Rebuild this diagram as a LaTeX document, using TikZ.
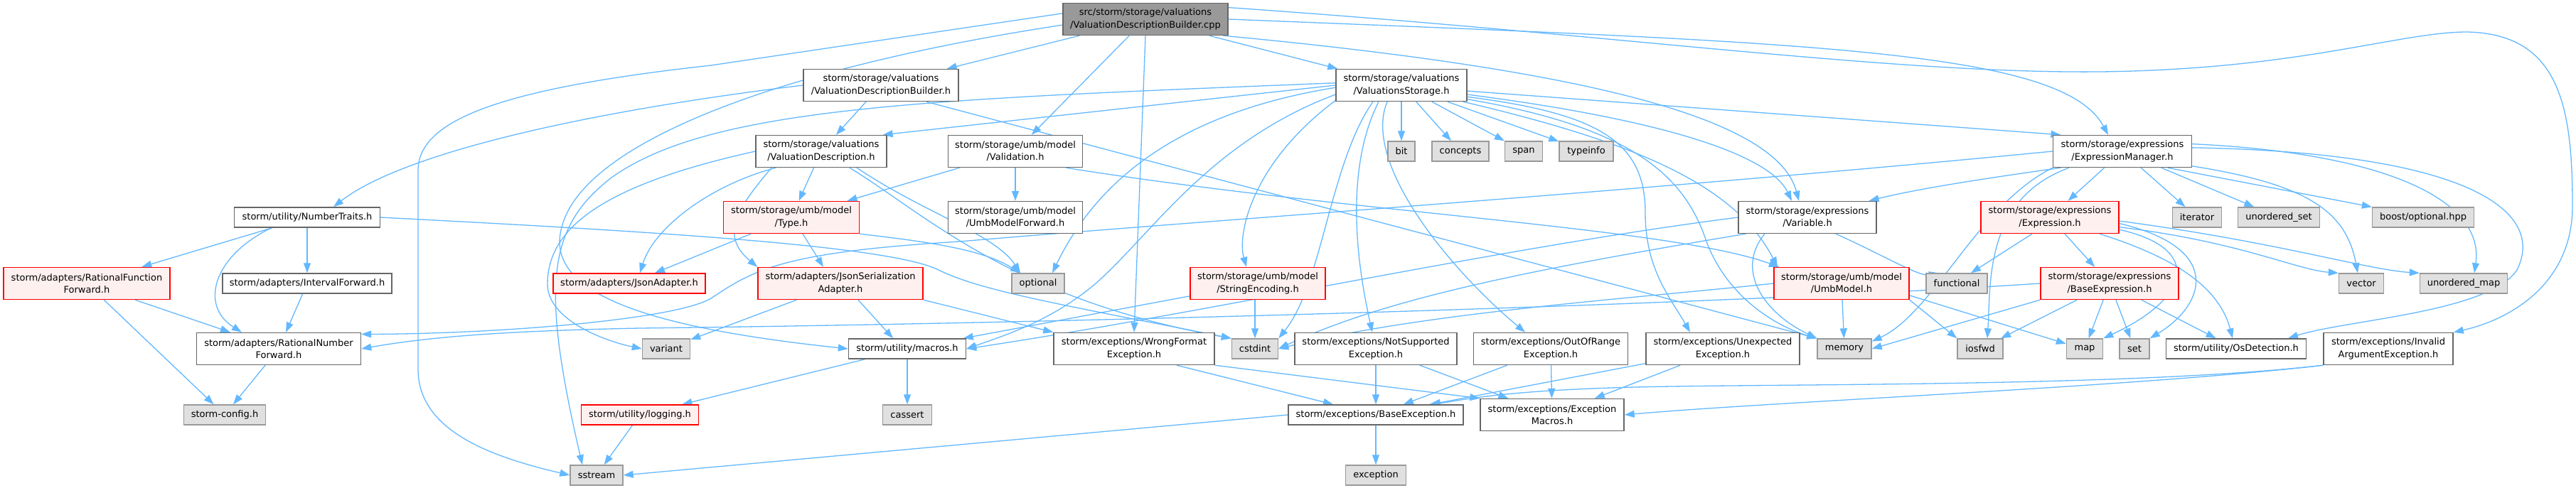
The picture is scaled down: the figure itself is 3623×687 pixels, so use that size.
\documentclass[tikz,border=0pt]{standalone}
\usepackage{fontspec}
\setmainfont{DejaVu Sans}
\usetikzlibrary{arrows.meta,backgrounds}
\definecolor{edgec}{HTML}{63B8FF}
\definecolor{nbord}{HTML}{666666}
\definecolor{gbord}{HTML}{999999}
\definecolor{gfill}{HTML}{E0E0E0}
\definecolor{rfill}{HTML}{FFF0F0}
\definecolor{rootfill}{HTML}{999999}
\definecolor{rbord}{HTML}{FF0000}
\begin{document}
\begin{tikzpicture}[x=1pt,y=-1pt,
  base/.style={draw, line width=1.4pt, inner sep=0pt, align=center,
    font=\fontsize{13}{17.3}\selectfont, minimum height=45pt},
  wbox/.style={base, draw=nbord, fill=white},
  wone/.style={wbox, minimum height=28pt},
  rbox/.style={base, draw=rbord, fill=rfill},
  rone/.style={rbox, minimum height=28pt},
  gone/.style={base, draw=gbord, fill=gfill, minimum height=28pt},
  rootbox/.style={base, draw=nbord, fill=rootfill},
  e/.style={draw=edgec, line width=1.3pt, -{Triangle[length=14pt,width=10pt]}}]
\useasboundingbox (0,0) rectangle (3623,687);
% row 0
\node[rootbox, minimum width=232] (root) at (1611,27) {src/storm/storage/valuations\\/ValuationDescriptionBuilder.cpp};
% row 1
\node[wbox, minimum width=218] (vdbh) at (1239,120) {storm/storage/valuations\\/ValuationDescriptionBuilder.h};
\node[wbox, minimum width=184] (vsh) at (1971,120) {storm/storage/valuations\\/ValuationsStorage.h};
% row 2
\node[wbox, minimum width=184] (vdh) at (1155,213) {storm/storage/valuations\\/ValuationDescription.h};
\node[wbox, minimum width=189] (valid) at (1428,213) {storm/storage/umb/model\\/Validation.h};
\node[gone, minimum width=38] (bit) at (1971,213) {bit};
\node[gone, minimum width=80] (concepts) at (2054,213) {concepts};
\node[gone, minimum width=53] (span) at (2143,213) {span};
\node[gone, minimum width=76] (typeinfo) at (2231,213) {typeinfo};
\node[wbox, minimum width=195] (em) at (2985,213) {storm/storage/expressions\\/ExpressionManager.h};
% row 3
\node[wone, minimum width=205] (nt) at (432,306) {storm/utility/NumberTraits.h};
\node[rbox, minimum width=191] (type) at (1113,306) {storm/storage/umb/model\\/Type.h};
\node[wbox, minimum width=189] (umbfwd) at (1428,306) {storm/storage/umb/model\\/UmbModelForward.h};
\node[wbox, minimum width=194] (var) at (2542,306) {storm/storage/expressions\\/Variable.h};
\node[rbox, minimum width=194] (expr) at (2883,306) {storm/storage/expressions\\/Expression.h};
\node[gone, minimum width=69] (iterator) at (3090,306) {iterator};
\node[gone, minimum width=115] (uset) at (3205,306) {unordered\_set};
\node[gone, minimum width=143] (boostopt) at (3408,306) {boost/optional.hpp};
% row 4
\node[rbox, minimum width=234] (rff) at (122,399) {storm/adapters/RationalFunction\\Forward.h};
\node[wone, minimum width=238] (ifwd) at (432,399) {storm/adapters/IntervalForward.h};
\node[rone, minimum width=214] (jsonad) at (885,399) {storm/adapters/JsonAdapter.h};
\node[rbox, minimum width=232] (jsonser) at (1182,399) {storm/adapters/JsonSerialization\\Adapter.h};
\node[gone, minimum width=74] (optional) at (1460,399) {optional};
\node[rbox, minimum width=190] (strenc) at (1769,399) {storm/storage/umb/model\\/StringEncoding.h};
\node[rbox, minimum width=190] (umbmodel) at (2590,399) {storm/storage/umb/model\\/UmbModel.h};
\node[gone, minimum width=86] (functional) at (2752,399) {functional};
\node[rbox, minimum width=194] (baseexpr) at (2967,399) {storm/storage/expressions\\/BaseExpression.h};
\node[gone, minimum width=63] (vector) at (3321,399) {vector};
\node[gone, minimum width=123] (umap) at (3465,399) {unordered\_map};
% row 5
\node[wbox, minimum width=231] (rnf) at (392,491) {storm/adapters/RationalNumber\\Forward.h};
\node[gone, minimum width=67] (variant) at (937,491) {variant};
\node[wone, minimum width=165] (macros) at (1276,491) {storm/utility/macros.h};
\node[wbox, minimum width=226] (wrongfmt) at (1595,491) {storm/exceptions/WrongFormat\\Exception.h};
\node[gone, minimum width=65] (cstdint) at (1765,491) {cstdint};
\node[wbox, minimum width=228] (notsup) at (1935,491) {storm/exceptions/NotSupported\\Exception.h};
\node[wbox, minimum width=217] (oor) at (2181,491) {storm/exceptions/OutOfRange\\Exception.h};
\node[wbox, minimum width=216] (unexp) at (2423,491) {storm/exceptions/Unexpected\\Exception.h};
\node[gone, minimum width=76] (memory) at (2594,491) {memory};
\node[gone, minimum width=64] (iosfwd) at (2785,491) {iosfwd};
\node[gone, minimum width=51] (map) at (2932,491) {map};
\node[gone, minimum width=42] (set) at (3002,491) {set};
\node[wone, minimum width=197] (osdet) at (3145,491) {storm/utility/OsDetection.h};
\node[wbox, minimum width=182] (invarg) at (3359,491) {storm/exceptions/Invalid\\ArgumentException.h};
% row 6
\node[gone, minimum width=115] (config) at (316,584) {storm-config.h};
\node[rone, minimum width=165] (logging) at (900,584) {storm/utility/logging.h};
\node[gone, minimum width=69] (cassert) at (1276,584) {cassert};
\node[wone, minimum width=246] (baseexc) at (1935,584) {storm/exceptions/BaseException.h};
\node[wbox, minimum width=202] (excmacros) at (2183,584) {storm/exceptions/Exception\\Macros.h};
% row 7
\node[gone, minimum width=74] (sstream) at (839,669) {sstream};
\node[gone, minimum width=85] (exception) at (1935,669) {exception};

\begin{pgfonlayer}{background}
% root
\draw[e] (root) -- (vdbh);
\draw[e] (root) -- (valid);
\draw[e] (root) -- (vsh);
\draw[e] (root.south) -- (wrongfmt.north);
\draw[e] (root.-12) .. controls (2250,100) and (2500,170) .. ([xshift=-12pt]var.north);
\draw[e] (root.east) .. controls (2550,60) and (2900,70) .. ([xshift=-20pt]em.north);
\draw[e] (root.8) .. controls (2300,50) and (2700,110) .. (3000,100) .. controls (3250,92) and (3380,45) .. (3470,45) .. controls (3600,48) and (3618,150) .. (3618,290) .. controls (3618,400) and (3530,450) .. (invarg.north east);
\draw[e] (root.176) -- (1000,92) .. controls (700,125) and (588,170) .. (588,240) -- (588,520) .. controls (588,610) and (700,645) .. (sstream.west);
\draw[e] (root.184) .. controls (1100,95) and (820,200) .. (790,320) .. controls (765,410) and (900,460) .. (macros.west);
% vdbh
\draw[e] (vdbh) -- (vdh);
\draw[e] (vdbh.west) .. controls (800,160) and (560,220) .. ([xshift=37pt]nt.north);
\draw[e] (vdbh.-20) -- (memory.north west);
% vsh
\draw[e] (vsh.west) -- (vdh.15);
\draw[e] (vsh) -- (bit);
\draw[e] (vsh) -- (concepts);
\draw[e] (vsh) -- (span);
\draw[e] (vsh) -- (typeinfo);
\draw[e] (vsh.-5) -- (em.165);
\draw[e] (vsh.-8) .. controls (2350,170) and (2490,220) .. ([xshift=-22pt]var.north);
\draw[e] (vsh.182) .. controls (1650,160) and (1540,260) .. ([xshift=20pt]optional.north);
\draw[e] (vsh.188) .. controls (1700,200) and (1620,330) .. (1540,400) .. controls (1480,450) and (1420,470) .. (macros.east);
\draw[e] (vsh.193) .. controls (1760,230) and (1740,330) .. ([xshift=-16pt]strenc.north);
\draw[e] ([xshift=-40pt]vsh.south) .. controls (1870,230) and (1860,400) .. (cstdint.north east);
\draw[e] ([xshift=-32pt]vsh.south) .. controls (1885,250) and (1915,400) .. ([xshift=-5pt]notsup.north);
\draw[e] ([xshift=-20pt]vsh.south) .. controls (1915,230) and (2040,380) .. ([xshift=-36pt]oor.north);
\draw[e] (vsh.-10) .. controls (2250,160) and (2314,200) .. (2314,300) .. controls (2314,380) and (2350,420) .. ([xshift=-46pt]unexp.north);
\draw[e] (vsh.-12) .. controls (2300,180) and (2370,250) .. (2400,340) .. controls (2430,420) and (2500,460) .. (memory.north west);
\draw[e] (vsh.-15) .. controls (2300,200) and (2440,260) .. ([xshift=-90pt]umbmodel.north);
\draw[e] (vsh.178) .. controls (1300,140) and (1000,150) .. (860,250) .. controls (770,320) and (760,400) .. ([xshift=-20pt]sstream.north);
% vdh
\draw[e] (vdh) -- (type);
\draw[e] (vdh.200) .. controls (1000,260) and (920,320) .. ([xshift=15pt]jsonad.north);
\draw[e] ([xshift=-70pt]vdh.south) .. controls (1040,290) and (1010,330) .. (jsonser.north west);
\draw[e] (vdh.west) .. controls (850,260) and (770,320) .. (770,400) .. controls (770,450) and (850,480) .. (variant.west);
\draw[e] ([xshift=50pt]vdh.south) .. controls (1300,300) and (1400,330) .. ([xshift=-25pt]optional.north);
\draw[e] ([xshift=40pt]vdh.south) .. controls (1300,300) and (1420,420) .. (cstdint.north west);
% valid
\draw[e] (valid) -- (type);
\draw[e] (valid) -- (umbfwd);
\draw[e] (valid.-18) .. controls (1900,300) and (2350,320) .. ([xshift=-88pt]umbmodel.north);
% type
\draw[e] (type) -- (jsonad);
\draw[e] ([xshift=16pt]type.south) -- ([xshift=-24pt]jsonser.north);
\draw[e] (type.south east) .. controls (1300,340) and (1380,350) .. ([xshift=-25pt]optional.north);
% em
\draw[e] (em) -- (expr);
\draw[e] (em) -- (iterator);
\draw[e] (em) -- (uset);
\draw[e] (em.-20) -- (boostopt.north west);
\draw[e] (em.-12) .. controls (3250,260) and (3300,300) .. ([xshift=-5pt]vector.north);
\draw[e] (em.6) .. controls (3350,215) and (3495,280) .. ([xshift=15pt]umap.north);
\draw[e] (em.3) .. controls (3480,215) and (3580,300) .. (3540,380) .. controls (3500,440) and (3300,450) .. ([xshift=73pt]osdet.north);
\draw[e] (em.195) .. controls (2800,250) and (2700,265) .. (var.15);
\draw[e] (em.west) .. controls (2300,270) and (1700,310) .. (1350,340) .. controls (1100,355) and (1060,380) .. (1000,420) .. controls (950,450) and (700,470) .. (rnf.10);
\draw[e] (em.south west) .. controls (2780,290) and (2720,440) .. (memory.15);
\draw[e] ([xshift=-75pt]em.south) .. controls (2790,280) and (2800,400) .. ([xshift=10pt]iosfwd.north);
% expr
\draw[e] (expr) -- (baseexpr);
\draw[e] ([xshift=-25pt]expr.south) -- ([xshift=20pt]functional.north);
\draw[e] (expr.-10) .. controls (3100,350) and (3080,420) .. (map.north east);
\draw[e] (expr.-5) .. controls (3130,350) and (3100,430) .. (set.north east);
\draw[e] ([xshift=70pt]expr.south) .. controls (3050,360) and (3120,400) .. ([xshift=-5pt]osdet.north);
\draw[e] (expr.-8) .. controls (3150,340) and (3230,380) .. (vector.north west);
\draw[e] (expr.-3) .. controls (3200,340) and (3330,380) .. (umap.north west);
% var
\draw[e] ([xshift=40pt]var.south) .. controls (2650,360) and (2700,390) .. ([xshift=-25pt]functional.north);
\draw[e] ([xshift=-60pt]var.south) .. controls (2440,380) and (2480,440) .. (memory.north west);
\draw[e] (var.west) .. controls (2100,350) and (1700,440) .. (macros.east);
\draw[e] (var.195) .. controls (2150,380) and (1950,420) .. (cstdint.east);
% umbmodel
\draw[e] (umbmodel) -- (memory);
\draw[e] (umbmodel.south east) -- (iosfwd.north west);
\draw[e] (umbmodel.-10) -- (map.165);
\draw[e] (umbmodel.west) .. controls (2300,420) and (2000,440) .. (cstdint.east);
% baseexpr
\draw[e] (baseexpr) -- (iosfwd);
\draw[e] (baseexpr) -- (map);
\draw[e] (baseexpr) -- (set);
\draw[e] (baseexpr) -- (osdet);
\draw[e] (baseexpr.south west) -- (memory.east);
\draw[e] (baseexpr.west) .. controls (2400,430) and (1500,455) .. (900,462) .. controls (700,466) and (600,475) .. (rnf.east);
% strenc
\draw[e] (strenc) -- (macros);
\draw[e] ([xshift=-4pt]strenc.south) -- (cstdint.north);
% nt
\draw[e] (nt) -- (rff);
\draw[e] (nt) -- (ifwd);
\draw[e] ([xshift=-50pt]nt.south) .. controls (300,360) and (280,430) .. ([xshift=-52pt]rnf.north);
\draw[e] (nt.east) .. controls (900,325) and (1250,345) .. (1320,380) .. controls (1380,410) and (1500,430) .. (cstdint.north west);
% adapters
\draw[e] (rff) -- (config);
\draw[e] (rff) -- (rnf);
\draw[e] (rnf) -- (config);
\draw[e] (ifwd) -- (rnf);
\draw[e] (jsonser) -- (variant);
\draw[e] ([xshift=25pt]jsonser.south) -- ([xshift=-20pt]macros.north);
\draw[e] (jsonser.south east) -- (wrongfmt.north west);
% exceptions
\draw[e] ([xshift=60pt]wrongfmt.south) -- ([xshift=-60pt]baseexc.north);
\draw[e] (wrongfmt.south east) -- (excmacros.north west);
\draw[e] (notsup) -- (baseexc);
\draw[e] (notsup) -- (excmacros);
\draw[e] (oor) -- (baseexc);
\draw[e] (oor) -- (excmacros);
\draw[e] (unexp) -- (baseexc);
\draw[e] (unexp) -- (excmacros);
\draw[e] (invarg.south west) .. controls (3000,545) and (2500,540) .. (2300,545) .. controls (2100,550) and (2050,565) .. ([xshift=75pt]baseexc.north);
\draw[e] (invarg.south west) .. controls (3000,545) and (2500,565) .. (excmacros.east);
\draw[e] (baseexc) -- (exception);
\draw[e] (baseexc.west) -- (sstream.east);
% macros
\draw[e] (macros) -- (logging);
\draw[e] (macros) -- (cassert);
\draw[e] (logging) -- (sstream);
\end{pgfonlayer}
\end{tikzpicture}
\end{document}
